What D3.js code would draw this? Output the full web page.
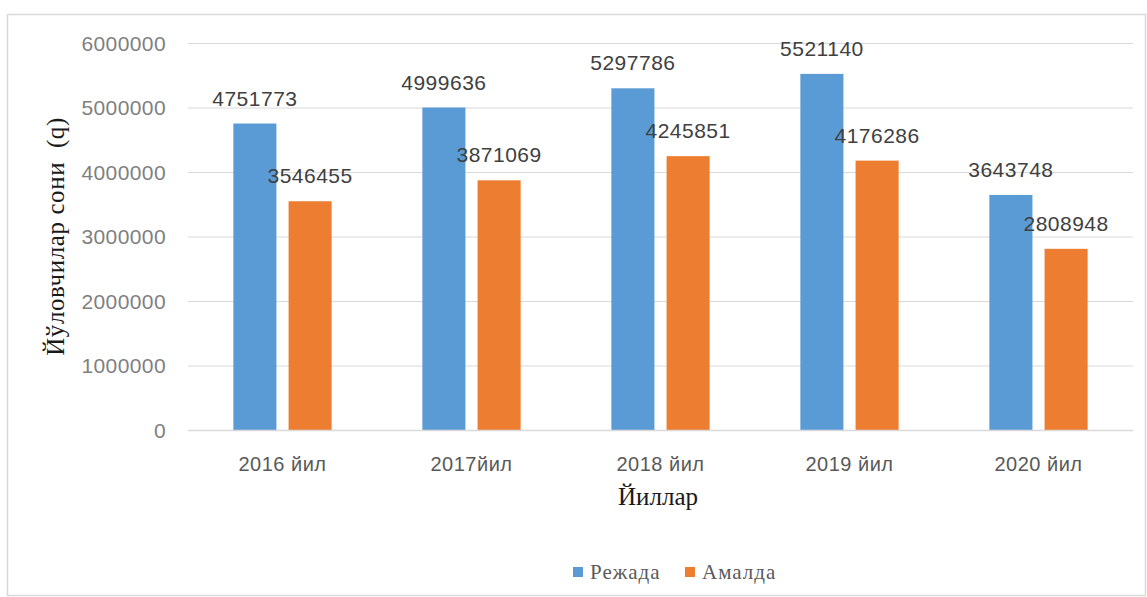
<!DOCTYPE html>
<html>
<head>
<meta charset="utf-8">
<script src="https://cdn.jsdelivr.net/npm/d3@7"></script>
<style>
  html, body { margin: 0; padding: 0; background: #fff; }
  svg { display: block; }
</style>
</head>
<body>
<svg id="chart" width="1147" height="597"></svg>
<script>
const categories = ["2016 йил", "2017йил", "2018 йил", "2019 йил", "2020 йил"];
const seriesNames = ["Режада", "Амалда"];
const planValues = [4751773, 4999636, 5297786, 5521140, 3643748];
const actualValues = [3546455, 3871069, 4245851, 4176286, 2808948];
const yTicks = [0, 1000000, 2000000, 3000000, 4000000, 5000000, 6000000];
const colors = ["#5b9bd5", "#ed7d31"];

(function () {
const svg = d3.select("#chart");
const W = 1147, H = 597;

// chart border
svg.append("rect").attr("x", 7.5).attr("y", 14.5).attr("width", W - 9).attr("height", H - 16)
  .attr("fill", "#fff").attr("stroke", "#d9d9d9").attr("stroke-width", 1.5);

const pLeft = 188, pRight = 1133, pTop = 43, pBottom = 430;

const x = d3.scaleBand().domain(categories).range([pLeft, pRight]).paddingInner(0.48).paddingOuter(0.24);
const xSub = d3.scaleBand().domain(seriesNames).range([0, x.bandwidth()]).paddingInner(0.22);
const y = d3.scaleLinear().domain([0, 6000000]).range([pBottom, pTop]);

// gridlines
svg.append("g").selectAll("line").data(yTicks.filter(d => d > 0)).join("line")
  .attr("x1", pLeft).attr("x2", pRight)
  .attr("y1", d => y(d) + 0.5).attr("y2", d => y(d) + 0.5)
  .attr("stroke", "#d9d9d9").attr("stroke-width", 1.2);

// y axis labels
const yAxis = d3.axisLeft(y).tickValues(yTicks).tickSize(0).tickPadding(0).tickFormat(d3.format("d"));
const ya = svg.append("g").attr("transform", `translate(166,0)`).call(yAxis);
ya.select(".domain").remove();
ya.selectAll("text").attr("font-family", "'Liberation Sans', Arial, sans-serif")
  .attr("font-size", 21).attr("letter-spacing", 0.4).attr("fill", "#7f7f7f").attr("dy", "0.35em");

// bars
const data = categories.map((c, i) => ({ c, vals: [planValues[i], actualValues[i]] }));
const groups = svg.append("g").selectAll("g").data(data).join("g")
  .attr("transform", d => `translate(${x(d.c)},0)`);
groups.selectAll("rect").data(d => d.vals.map((v, j) => ({ v, s: seriesNames[j], j }))).join("rect")
  .attr("x", d => xSub(d.s)).attr("width", xSub.bandwidth())
  .attr("y", d => y(d.v)).attr("height", d => y(0) - y(d.v))
  .attr("fill", d => colors[d.j]);

// data labels
groups.selectAll("text").data(d => d.vals.map((v, j) => ({ v, s: seriesNames[j], j }))).join("text")
  .attr("x", d => xSub(d.s) + xSub.bandwidth() / 2)
  .attr("y", d => y(d.v) - 18)
  .attr("text-anchor", "middle")
  .attr("font-family", "'Liberation Sans', Arial, sans-serif")
  .attr("font-size", 21).attr("letter-spacing", 0.5).attr("fill", "#404040")
  .text(d => d.v);

// baseline
svg.append("line").attr("x1", pLeft).attr("x2", pRight).attr("y1", pBottom + 0.5).attr("y2", pBottom + 0.5)
  .attr("stroke", "#d9d9d9").attr("stroke-width", 1.5);

// x axis labels
const xAxis = d3.axisBottom(x).tickSize(0).tickPadding(0);
const xa = svg.append("g").attr("transform", `translate(0,${pBottom})`).call(xAxis);
xa.select(".domain").remove();
xa.selectAll("text").attr("font-family", "'Liberation Sans', Arial, sans-serif")
  .attr("font-size", 20).attr("letter-spacing", 0.5).attr("fill", "#595959").attr("dy", "0").attr("y", 41);

// axis titles
svg.append("text").attr("transform", `translate(64,${(pTop + pBottom) / 2}) rotate(-90)`)
  .attr("text-anchor", "middle").attr("font-family", "'Liberation Serif', 'Times New Roman', serif")
  .attr("font-size", 25).attr("letter-spacing", 0.6).attr("fill", "#1a1a1a").attr("xml:space", "preserve")
  .text("Йўловчилар сони  (q)");
svg.append("text").attr("x", 658).attr("y", 505).attr("text-anchor", "middle")
  .attr("font-family", "'Liberation Serif', 'Times New Roman', serif")
  .attr("font-size", 25).attr("fill", "#1a1a1a").text("Йиллар");

// legend
const legend = svg.append("g");
const lx = [573, 685];
seriesNames.forEach((s, i) => {
  legend.append("rect").attr("x", lx[i]).attr("y", 567).attr("width", 10).attr("height", 10).attr("fill", colors[i]);
  legend.append("text").attr("x", lx[i] + 17).attr("y", 579)
    .attr("font-family", "'Liberation Serif', 'Times New Roman', serif")
    .attr("font-size", 21).attr("letter-spacing", 1).attr("fill", "#595959").text(s);
});
})();
</script>
</body>
</html>
